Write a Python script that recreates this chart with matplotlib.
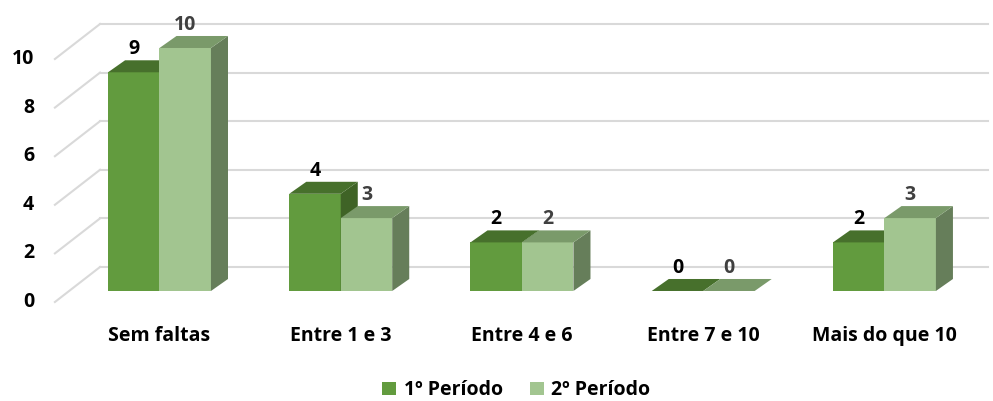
#!/usr/bin/env python3
"""Faltas por período - gráfico de colunas com efeito 3D."""

import matplotlib.pyplot as plt
from matplotlib.patches import Polygon, Patch

categorias = ["Sem faltas", "Entre 1 e 3", "Entre 4 e 6", "Entre 7 e 10", "Mais do que 10"]
periodo1 = [9, 4, 2, 0, 2]
periodo2 = [10, 3, 2, 0, 3]
series_nomes = ["1º Período", "2º Período"]
yticks = [0, 2, 4, 6, 8, 10]

# cores: frente, topo, lado
CORES = [
    ("#629b3e", "#47702c", "#3f6326"),
    ("#a2c590", "#7a9a6a", "#667e5a"),
]
LABEL_CORES = ["#000000", "#404040"]

BAR_W = 0.284  # largura de cada coluna (unidades de categoria)
DX = 0.094     # profundidade em x
DY = 0.494     # profundidade em y (unidades de valor)
FS = 14

plt.rcParams["font.family"] = ["Open Sans", "DejaVu Sans"]
plt.rcParams["font.weight"] = "bold"

fig = plt.figure(figsize=(9.93, 4.01), dpi=100)
ax = fig.add_axes([0, 0, 1, 1])
ax.set_xlim(-0.88, 4.599)
ax.set_ylim(-4.527, 11.975)
ax.axis("off")

# grelha: parede do fundo + linhas diagonais do chão
for v in yticks:
    ax.plot([-0.328, 4.57], [v + 0.988, v + 0.988], color="#d9d9d9", lw=1.5, zorder=1)
    ax.plot([-0.577, -0.328], [v - 0.453, v + 0.988], color="#d9d9d9", lw=1.5, zorder=1)
    ax.text(-0.692, v - 0.453, str(v), ha="right", va="center", fontsize=FS,
            fontweight="bold", color="#000000")


def barra(x0, h, cores, z):
    frente, topo, lado = cores
    x1 = x0 + BAR_W
    if h > 0:
        ax.add_patch(Polygon([(x0, 0), (x1, 0), (x1, h), (x0, h)],
                             closed=True, fc=frente, ec="none", zorder=z))
        ax.add_patch(Polygon([(x1, 0), (x1 + DX, DY), (x1 + DX, h + DY), (x1, h)],
                             closed=True, fc=lado, ec="none", zorder=z))
    ax.add_patch(Polygon([(x0, h), (x1, h), (x1 + DX, h + DY), (x0 + DX, h + DY)],
                         closed=True, fc=topo, ec="none", zorder=z))


for i, cat in enumerate(categorias):
    for s, valores in enumerate([periodo1, periodo2]):
        x0 = i - BAR_W + s * BAR_W
        h = valores[i]
        barra(x0, h, CORES[s], 2 + s)
        ax.text(x0 + BAR_W / 2, h + DY + 0.05, str(h), ha="center", va="bottom",
                fontsize=FS, fontweight="bold", color=LABEL_CORES[s], zorder=5)
    ax.text(i, -1.85, cat, ha="center", va="center", fontsize=FS,
            fontweight="bold", color="#000000")

handles = [Patch(fc=CORES[0][0], label=series_nomes[0]),
           Patch(fc=CORES[1][0], label=series_nomes[1])]
fig.legend(handles=handles, loc="center", bbox_to_anchor=(0.52, 0.027), ncol=2,
           frameon=False, fontsize=FS, handlelength=0.7, handleheight=0.7,
           handletextpad=0.4, columnspacing=1.4)

fig.savefig("out.png", dpi=100)
